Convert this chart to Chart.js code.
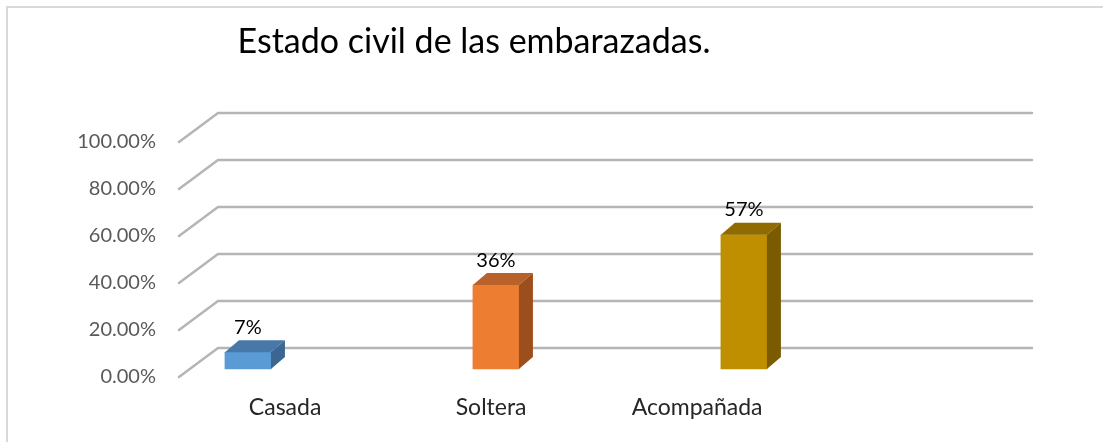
<!DOCTYPE html>
<html>
<head>
<meta charset="utf-8">
<script src="https://cdn.jsdelivr.net/npm/chart.js@4/dist/chart.umd.min.js"></script>
<style>
  html, body { margin: 0; padding: 0; background: #fff; }
  #wrap { position: relative; width: 1103px; height: 442px; overflow: hidden; }
  #frame { position: absolute; left: 6px; top: 6px; right: -10px; bottom: -10px;
           border-top: 2px solid #d9d9d9; border-left: 2px solid #d9d9d9; }
  canvas { position: absolute; left: 0; top: 0; }
</style>
</head>
<body>
<div id="wrap">
  <div id="frame"></div>
  <canvas id="chart" width="1103" height="442"></canvas>
</div>
<script>
const TITLE = 'Estado civil de las embarazadas.';
const categories = ['Casada', 'Soltera', 'Acompañada'];
const shares = [0.0714, 0.3571, 0.5714];
const frontColors = ['#5b9bd5', '#ed7d31', '#bf8f00'];
const topColors = ['#4778a8', '#b9612a', '#8f6b00'];
const sideColors = ['#3b6691', '#9c4f1d', '#7a5b00'];
const yTicks = [0, 0.2, 0.4, 0.6, 0.8, 1];

const FONT = 'Lato';
// perspective offsets (px) for the floor / back wall and for the bar depth
const WALL_DX = 39, WALL_DY = -29;
const BAR_LIFT = -8;
const BAR_DX = 14, BAR_DY = -12;

const threeD = {
  id: 'threeD',
  beforeDatasetsDraw(chart) {
    const { ctx, chartArea } = chart;
    const y = chart.scales.y;
    const x0 = chartArea.left;
    const xEnd = chartArea.left + 853;
    ctx.save();
    ctx.strokeStyle = '#b5b5b5';
    ctx.lineWidth = 2.5;
    ctx.lineCap = 'round';
    yTicks.forEach((v) => {
      const py = y.getPixelForValue(v);
      ctx.beginPath();
      ctx.moveTo(x0, py);
      ctx.lineTo(x0 + WALL_DX, py + WALL_DY);
      ctx.lineTo(xEnd, py + WALL_DY);
      ctx.stroke();
    });
    ctx.restore();
    ctx.save();
    ctx.translate(0, BAR_LIFT);
  },
  afterDatasetsDraw(chart) {
    const { ctx } = chart;
    const meta = chart.getDatasetMeta(0);
    meta.data.forEach((bar, i) => {
      const p = bar.getProps(['x', 'y', 'base', 'width'], true);
      const l = p.x - p.width / 2, r = p.x + p.width / 2;
      ctx.fillStyle = topColors[i];
      ctx.beginPath();
      ctx.moveTo(l, p.y);
      ctx.lineTo(r, p.y);
      ctx.lineTo(r + BAR_DX, p.y + BAR_DY);
      ctx.lineTo(l + BAR_DX, p.y + BAR_DY);
      ctx.closePath();
      ctx.fill();
      ctx.fillStyle = sideColors[i];
      ctx.beginPath();
      ctx.moveTo(r, p.y);
      ctx.lineTo(r + BAR_DX, p.y + BAR_DY);
      ctx.lineTo(r + BAR_DX, p.base + BAR_DY);
      ctx.lineTo(r, p.base);
      ctx.closePath();
      ctx.fill();

      ctx.fillStyle = '#000';
      ctx.font = '20px ' + FONT;
      ctx.textAlign = 'center';
      ctx.textBaseline = 'middle';
      ctx.fillText(Math.round(shares[i] * 100) + '%', p.x, p.y - 25);
    });
    ctx.restore();
  }
};

const catLabel = (v) => (Number.isInteger(v) && categories[v]) || '';

new Chart(document.getElementById('chart'), {
  type: 'bar',
  data: {
    datasets: [{
      data: shares.map((v, i) => ({ x: i, y: v })),
      backgroundColor: frontColors,
      borderWidth: 0,
      barThickness: 46,
      clip: false
    }]
  },
  options: {
    responsive: false,
    animation: false,
    layout: { padding: { left: 0, right: 155, top: 0, bottom: 0 } },
    plugins: {
      legend: { display: false },
      tooltip: { enabled: false },
      title: {
        display: true,
        text: TITLE,
        align: 'center',
        color: '#000',
        font: { family: FONT, size: 34, weight: 'normal' },
        padding: { top: 22, bottom: 79.2 }
      }
    },
    scales: {
      // bar positions (front plane of the 3D plot)
      x: {
        type: 'linear',
        display: false,
        offset: false,
        bounds: 'data',
        min: -0.278,
        max: 2.823
      },
      // category labels sit on the floor edge, drawn in perspective
      x2: {
        type: 'linear',
        position: 'bottom',
        offset: false,
        bounds: 'data',
        min: -0.515,
        max: 3.218,
        grid: { display: false, drawTicks: false },
        border: { display: false },
        ticks: {
          autoSkip: false,
          maxRotation: 0,
          color: '#262626',
          font: { family: FONT, size: 23 },
          padding: 17,
          callback: catLabel
        },
        afterBuildTicks: (s) => { s.ticks = categories.map((c, i) => ({ value: i })); },
        afterFit: (s) => { s.height = 65; }
      },
      y: {
        min: 0,
        max: 1,
        grid: { display: false, drawTicks: false },
        border: { display: false },
        ticks: {
          stepSize: 0.2,
          color: '#595959',
          font: { family: FONT, size: 20 },
          padding: 23,
          callback: (v) => (v * 100).toFixed(2) + '%'
        },
        afterFit: (s) => { s.width = 179; }
      }
    }
  },
  plugins: [threeD]
});
</script>
</body>
</html>
